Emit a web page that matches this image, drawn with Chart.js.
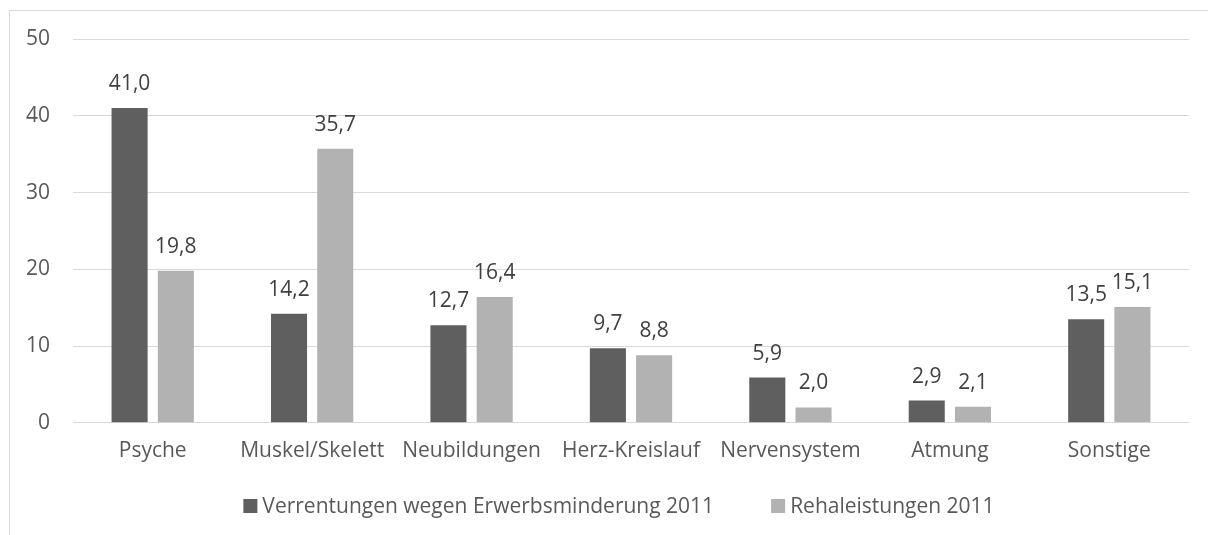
<!DOCTYPE html>
<html>
<head>
<meta charset="utf-8">
<script src="https://cdn.jsdelivr.net/npm/chart.js@4"></script>
<style>
  html, body { margin: 0; padding: 0; background: #fff; overflow: hidden; }
  #frame { position: absolute; left: 9px; top: 10px; width: 1300px; height: 600px; border: 1px solid #d9d9d9; }
  #wrap { position: absolute; left: 0; top: 0; width: 1208px; height: 535px; }
</style>
</head>
<body>
<div id="frame"></div>
<div id="wrap"><canvas id="myChart" width="1208" height="535"></canvas></div>
<script>
const kategorien = ['Psyche', 'Muskel/Skelett', 'Neubildungen', 'Herz-Kreislauf', 'Nervensystem', 'Atmung', 'Sonstige'];
const verrentungen = [41.0, 14.2, 12.7, 9.7, 5.9, 2.9, 13.5];
const reha = [19.8, 35.7, 16.4, 8.8, 2.0, 2.1, 15.1];
const yTicks = [0, 10, 20, 30, 40, 50];

const schrift = '"Open Sans", sans-serif';
const grau = '#595959';

// Werte ueber den Balken (mit Komma)
const wertePlugin = {
    id: 'werte',
    afterDatasetsDraw(chart) {
        const ctx = chart.ctx;
        ctx.save();
        ctx.font = '21px ' + schrift;
        ctx.fillStyle = '#404040';
        ctx.textAlign = 'center';
        ctx.textBaseline = 'alphabetic';
        chart.data.datasets.forEach((ds, i) => {
            chart.getDatasetMeta(i).data.forEach((bar, j) => {
                const txt = ds.data[j].toFixed(1).replace('.', ',');
                ctx.fillText(txt, bar.x, bar.y - 18);
            });
        });
        ctx.restore();
    }
};

// Legende unten, wie im Original
const legendePlugin = {
    id: 'legende',
    afterDraw(chart) {
        const ctx = chart.ctx;
        ctx.save();
        ctx.font = '21px ' + schrift;
        ctx.textBaseline = 'middle';
        ctx.textAlign = 'left';
        const box = 14, gap = 5, abstand = 57, y = 506;
        const items = chart.data.datasets.map(ds => ({ text: ds.label, color: ds.backgroundColor, w: ctx.measureText(ds.label).width }));
        let total = 0;
        items.forEach((it, i) => { total += box + gap + it.w + (i > 0 ? abstand : 0); });
        let x = (chart.width - total) / 2 + 15;
        items.forEach(it => {
            ctx.fillStyle = it.color;
            ctx.fillRect(x, y - box / 2, box, box);
            ctx.fillStyle = grau;
            ctx.fillText(it.text, x + box + gap, y + 1);
            x += box + gap + it.w + abstand;
        });
        ctx.restore();
    }
};

const ctx = document.getElementById('myChart').getContext('2d');
const myChart = new Chart(ctx, {
    type: 'bar',
    data: {
        labels: kategorien,
        datasets: [{
            label: 'Verrentungen wegen Erwerbsminderung 2011',
            data: verrentungen,
            backgroundColor: '#5f5f5f',
            categoryPercentage: 0.58,
            barPercentage: 0.78
        },
        {
            label: 'Rehaleistungen 2011',
            data: reha,
            backgroundColor: '#b2b2b2',
            categoryPercentage: 0.58,
            barPercentage: 0.78
        }]
    },
    plugins: [wertePlugin, legendePlugin],
    options: {
        responsive: false,
        animation: false,
        layout: { padding: { left: 0, right: 19, top: 39, bottom: 63 } },
        plugins: {
            legend: { display: false },
            tooltip: { enabled: false }
        },
        scales: {
            x: {
                grid: { display: false },
                border: { display: false },
                ticks: { color: grau, font: { family: schrift, size: 21 }, padding: 8 }
            },
            y: {
                min: 0,
                max: 50,
                afterBuildTicks: (s) => { s.ticks = yTicks.map(v => ({ value: v })); },
                afterFit: (s) => { s.width = 73; },
                grid: { color: '#d9d9d9', drawTicks: false },
                border: { display: false },
                ticks: { color: grau, font: { family: schrift, size: 21 }, padding: 23 }
            }
        }
    }
});
</script>
</body>
</html>
